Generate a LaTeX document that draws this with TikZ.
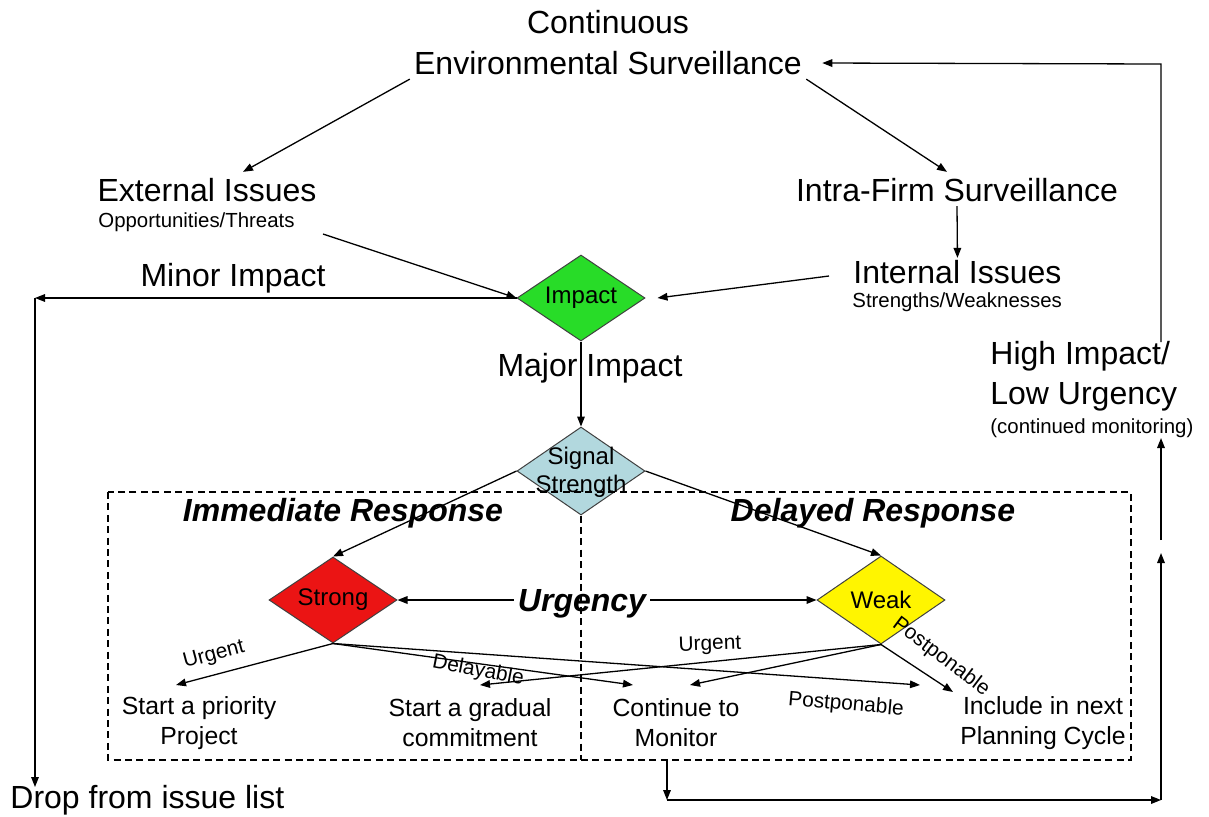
\documentclass[tikz,border=0pt]{standalone}
\usepackage{fontspec}
\setmainfont{Liberation Sans}
\usetikzlibrary{shapes.geometric,arrows.meta}
\definecolor{impgreen}{RGB}{40,220,40}
\definecolor{sigblue}{RGB}{178,216,222}
\definecolor{strred}{RGB}{235,20,20}
\definecolor{weakyel}{RGB}{255,245,0}
\tikzset{
  arr/.style={-{Triangle[length=5pt,width=3.8pt]}, line width=0.65pt},
  plain/.style={line width=0.65pt},
  dia/.style={diamond, draw=black!75, line width=0.5pt, inner sep=0pt, minimum width=64pt, minimum height=43pt},
  dtxt/.style={font=\fontsize{12}{14}\selectfont, inner sep=0pt, align=center},
  big/.style={font=\fontsize{16}{20.5}\selectfont, inner sep=2pt},
  small/.style={font=\fontsize{10.2}{12}\selectfont, inner sep=2pt},
  hdr/.style={font=\fontsize{16}{20}\selectfont\bfseries\itshape, inner sep=2pt},
  bot/.style={font=\fontsize{12.4}{15}\selectfont, align=center, inner sep=2pt},
  lbl/.style={font=\fontsize{10.4}{12}\selectfont, inner sep=0pt},
  dashbox/.style={dashed, dash pattern=on 3.5pt off 2.2pt, line width=0.6pt}
}
\begin{document}
\begin{tikzpicture}[x=0.5pt,y=-0.5pt]
\useasboundingbox[fill=white] (0,0) rectangle (1209,816);

% texts
\node[big] (cont) at (608,22) {Continuous};
\node[big] (env) at (608,63) {Environmental Surveillance};
\node[big] (ext) at (207,190) {External Issues};
\node[small,anchor=west] (extsub) at (94,222) {Opportunities/Threats};
\node[big] (intra) at (957,190) {Intra-Firm Surveillance};
\node[big,anchor=west] (intl) at (849,272) {Internal Issues};
\node[small,anchor=west] (intsub) at (848,302) {Strengths/Weaknesses};
\node[big] (minor) at (233,278) {Minor Impact};
\node[big] (major) at (590,368) {Major Impact};
\node[big,anchor=west] (high) at (986,356) {High Impact/};
\node[big,anchor=west] (low) at (986,397) {Low Urgency};
\node[small,anchor=west] (cmon) at (986,428) {(continued monitoring)};
\node[big,anchor=west] (drop) at (6,800) {Drop from issue list};

% diamonds
\node[dia,fill=impgreen] (impact) at (581,298) {};
\node[dtxt] (impactT) at (impact) {Impact};
\node[dia,fill=sigblue,minimum height=44pt] (signal) at (581,471) {};
\node[dtxt,font=\fontsize{12}{14}\selectfont] (signalT) at (581,472) {Signal\\Strength};
\node[dia,fill=strred] (strong) at (333,600) {};
\node[dtxt] (strongT) at (strong) {Strong};
\node[dia,fill=weakyel,minimum height=44pt] (weak) at (881,600) {};
\node[dtxt] (weakT) at (weak) {Weak};

% dashed frame
\coordinate (boxtl) at (108,492);
\coordinate (boxbr) at (1131,760);
\coordinate (divbot) at (581,760);
\draw[dashbox] (boxtl) rectangle (boxbr);
\draw[dashbox] (signal.south) -- (divbot);

% headers
\node[hdr] (immr) at (343,513) {Immediate Response};
\node[hdr] (delr) at (873,513) {Delayed Response};
\node[hdr] (urg) at (582,604) {Urgency};

% outcomes
\node[bot] (prio) at (199,723) {Start a priority\\Project};
\node[bot] (grad) at (470,723) {Start a gradual\\commitment};
\node[bot] (mon) at (676,723) {Continue to\\Monitor};
\node[bot] (incl) at (1043,723) {Include in next\\Planning Cycle};

% branch labels
\node[lbl,rotate=15] (lurg1) at (214,655) {Urgent};
\node[lbl,rotate=-11] (ldel) at (478,671) {Delayable};
\node[lbl,rotate=2] (lurg2) at (710,645) {Urgent};
\node[lbl,rotate=-5] (lpost1) at (846,705) {Postponable};
\node[lbl,rotate=-37] (lpost2) at (941,657) {Postponable};

% free ends
\coordinate (pA) at (176,685);
\coordinate (gA) at (480,685);
\coordinate (mA) at (633,685);
\coordinate (mB) at (690,685);
\coordinate (iA) at (920,685);
\coordinate (iB) at (953,692);
\coordinate (lc) at (35,298);
\coordinate (ld) at (35,787);
\coordinate (mtop) at (667,760);
\coordinate (mdown) at (667,800);
\coordinate (rb) at (1161,800);
\coordinate (r1) at (1161,553);
\coordinate (r2) at (1161,540);
\coordinate (r3) at (1161,438);
\coordinate (r4) at (1161,342);
\coordinate (r5) at (1161,64);

% connectors top
\draw[arr] (env.south west) -- ([xshift=18pt,yshift=1pt]ext.north);
\draw[arr] (env.south east) -- ([xshift=-5pt,yshift=1pt]intra.north);
\draw[arr] (intra.south) -- ([yshift=-1pt]intl.north);
\draw[arr] ([xshift=12pt,yshift=-6pt]extsub.east) -- (impact.west);
\draw[arr] ([xshift=-10pt,yshift=-2pt]intl.west) -- ([xshift=6pt]impact.east);
\draw[arr] (impact.west) -- (lc);
\draw[arr] (lc) -- (ld);
\draw[arr] (impact.south) -- (signal.north);

% signal branches
\draw[arr] (signal.west) -- (strong.north);
\draw[arr] (signal.east) -- (weak.north);
\draw[arr] (urg.west |- strong) -- (strong.east);
\draw[arr] (urg.east |- weak) -- (weak.west);

% outcome arrows
\draw[arr] (strong.south) -- (pA);
\draw[arr] (strong.south) -- (mA);
\draw[arr] (strong.south) -- (iA);
\draw[arr] (weak.south) -- (gA);
\draw[arr] (weak.south) -- (mB);
\draw[arr] (weak.south) -- (iB);

% feedback loop
\draw[arr] (mtop) -- (mdown);
\draw[arr] (mdown) -- (rb);
\draw[arr] (rb) -- (r1);
\draw[arr] (r2) -- (r3);
\draw[arr] (r4) -- (r5) -- ([xshift=8pt]env.east);
\end{tikzpicture}
\end{document}
